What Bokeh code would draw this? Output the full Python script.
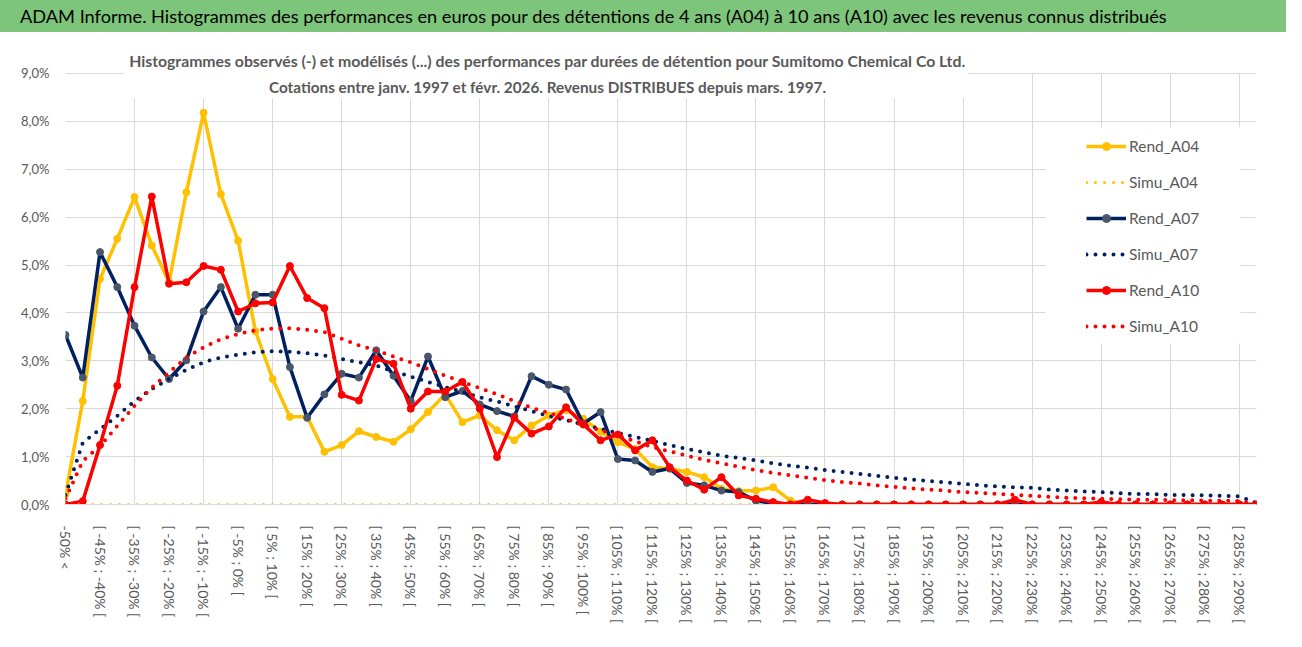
from bokeh.plotting import figure
from bokeh.layouts import column
from bokeh.models import ColumnDataSource, Range1d, FixedTicker, Label, BoxAnnotation, Div
from bokeh.embed import file_html
from bokeh.resources import INLINE

# ---------------- data ----------------
categories = [
    "-50% <", "[ -50% ; -45% [", "[ -45% ; -40% [", "[ -40% ; -35% [", "[ -35% ; -30% [",
    "[ -30% ; -25% [", "[ -25% ; -20% [", "[ -20% ; -15% [", "[ -15% ; -10% [", "[ -10% ; -5% [",
    "[ -5% ; 0% [", "[ 0% ; 5% [", "[ 5% ; 10% [", "[ 10% ; 15% [", "[ 15% ; 20% [",
    "[ 20% ; 25% [", "[ 25% ; 30% [", "[ 30% ; 35% [", "[ 35% ; 40% [", "[ 40% ; 45% [",
    "[ 45% ; 50% [", "[ 50% ; 55% [", "[ 55% ; 60% [", "[ 60% ; 65% [", "[ 65% ; 70% [",
    "[ 70% ; 75% [", "[ 75% ; 80% [", "[ 80% ; 85% [", "[ 85% ; 90% [", "[ 90% ; 95% [",
    "[ 95% ; 100% [", "[ 100% ; 105% [", "[ 105% ; 110% [", "[ 110% ; 115% [", "[ 115% ; 120% [",
    "[ 120% ; 125% [", "[ 125% ; 130% [", "[ 130% ; 135% [", "[ 135% ; 140% [", "[ 140% ; 145% [",
    "[ 145% ; 150% [", "[ 150% ; 155% [", "[ 155% ; 160% [", "[ 160% ; 165% [", "[ 165% ; 170% [",
    "[ 170% ; 175% [", "[ 175% ; 180% [", "[ 180% ; 185% [", "[ 185% ; 190% [", "[ 190% ; 195% [",
    "[ 195% ; 200% [", "[ 200% ; 205% [", "[ 205% ; 210% [", "[ 210% ; 215% [", "[ 215% ; 220% [",
    "[ 220% ; 225% [", "[ 225% ; 230% [", "[ 230% ; 235% [", "[ 235% ; 240% [", "[ 240% ; 245% [",
    "[ 245% ; 250% [", "[ 250% ; 255% [", "[ 255% ; 260% [", "[ 260% ; 265% [", "[ 265% ; 270% [",
    "[ 270% ; 275% [", "[ 275% ; 280% [", "[ 280% ; 285% [", "[ 285% ; 290% [", "[ 290% ; 295% [",
]

rend_a04 = [
    0.21, 2.16, 4.71, 5.55, 6.42, 5.41, 4.64, 6.52, 8.18, 6.48,
    5.51, 3.62, 2.62, 1.83, 1.83, 1.10, 1.24, 1.53, 1.41, 1.31,
    1.57, 1.93, 2.30, 1.72, 1.86, 1.55, 1.34, 1.65, 1.86, 1.97,
    1.79, 1.52, 1.30, 1.16, 0.78, 0.75, 0.68, 0.57, 0.33, 0.28,
    0.29, 0.36, 0.08, 0.00, 0.00, 0.00, 0.00, 0.00, 0.00, 0.00,
    0.00, 0.00, 0.00, 0.00, 0.00, 0.00, 0.00, 0.00, 0.00, 0.00,
    0.00, 0.00, 0.00, 0.00, 0.00, 0.00, 0.00, 0.00, 0.00, 0.00,
]
simu_a04 = [
    0.00, 0.00, 0.00, 0.00, 0.00, 0.00, 0.00, 0.00, 0.00, 0.00,
    0.00, 0.00, 0.00, 0.00, 0.00, 0.00, 0.00, 0.00, 0.00, 0.00,
    0.00, 0.00, 0.00, 0.00, 0.00, 0.00, 0.00, 0.00, 0.00, 0.00,
    0.00, 0.00, 0.00, 0.00, 0.00, 0.00, 0.00, 0.00, 0.00, 0.00,
    0.00, 0.00, 0.00, 0.00, 0.00, 0.00, 0.00, 0.00, 0.00, 0.00,
    0.00, 0.00, 0.00, 0.00, 0.00, 0.00, 0.00, 0.00, 0.00, 0.00,
    0.00, 0.00, 0.00, 0.00, 0.00, 0.00, 0.00, 0.00, 0.00, 0.00,
]
rend_a07 = [
    3.54, 2.65, 5.27, 4.54, 3.73, 3.07, 2.62, 3.01, 4.03, 4.54,
    3.67, 4.38, 4.38, 2.87, 1.81, 2.30, 2.73, 2.65, 3.22, 2.69,
    2.16, 3.09, 2.24, 2.37, 2.09, 1.95, 1.84, 2.68, 2.50, 2.40,
    1.69, 1.93, 0.95, 0.92, 0.68, 0.75, 0.45, 0.40, 0.29, 0.26,
    0.08, 0.02, 0.00, 0.00, 0.00, 0.00, 0.00, 0.00, 0.00, 0.00,
    0.00, 0.00, 0.00, 0.00, 0.00, 0.00, 0.00, 0.00, 0.00, 0.00,
    0.00, 0.00, 0.00, 0.00, 0.00, 0.00, 0.00, 0.00, 0.00, 0.00,
]
simu_a07 = [
    0.20, 1.29, 1.57, 1.85, 2.16, 2.41, 2.62, 2.81, 2.97, 3.07,
    3.13, 3.18, 3.20, 3.19, 3.16, 3.11, 3.04, 2.97, 2.90, 2.78,
    2.67, 2.56, 2.45, 2.35, 2.24, 2.15, 2.05, 1.95, 1.85, 1.76,
    1.67, 1.58, 1.49, 1.41, 1.33, 1.24, 1.16, 1.09, 1.02, 0.97,
    0.92, 0.86, 0.81, 0.77, 0.72, 0.68, 0.64, 0.60, 0.56, 0.52,
    0.49, 0.46, 0.43, 0.40, 0.38, 0.36, 0.35, 0.31, 0.29, 0.27,
    0.26, 0.24, 0.22, 0.22, 0.20, 0.195, 0.19, 0.18, 0.17, 0.03,
]
rend_a10 = [
    0.00, 0.07, 1.24, 2.48, 4.54, 6.43, 4.61, 4.64, 4.98, 4.90,
    4.03, 4.20, 4.22, 4.98, 4.31, 4.10, 2.29, 2.17, 3.04, 2.94,
    2.00, 2.36, 2.36, 2.56, 2.00, 0.99, 1.81, 1.48, 1.63, 2.03,
    1.67, 1.34, 1.46, 1.13, 1.34, 0.78, 0.50, 0.31, 0.57, 0.19,
    0.12, 0.05, 0.00, 0.10, 0.03, 0.00, 0.00, 0.00, 0.00, 0.00,
    0.00, 0.00, 0.00, 0.00, 0.00, 0.10, 0.00, 0.00, 0.00, 0.00,
    0.05, 0.00, 0.00, 0.00, 0.00, 0.00, 0.00, 0.00, 0.00, 0.00,
]
simu_a10 = [
    0.12, 0.91, 1.22, 1.64, 2.06, 2.44, 2.76, 3.07, 3.28, 3.45,
    3.56, 3.64, 3.67, 3.68, 3.65, 3.60, 3.46, 3.32, 3.22, 3.09,
    2.97, 2.83, 2.69, 2.56, 2.43, 2.30, 2.16, 2.02, 1.91, 1.79,
    1.65, 1.55, 1.44, 1.32, 1.20, 1.11, 1.02, 0.93, 0.86, 0.79,
    0.72, 0.66, 0.61, 0.56, 0.51, 0.47, 0.44, 0.40, 0.37, 0.34,
    0.31, 0.29, 0.26, 0.24, 0.22, 0.20, 0.18, 0.16, 0.14, 0.13,
    0.12, 0.11, 0.10, 0.10, 0.09, 0.09, 0.08, 0.08, 0.07, 0.01,
]

y_tick_values = [0, 1, 2, 3, 4, 5, 6, 7, 8, 9]
y_tick_labels = ["0,0%", "1,0%", "2,0%", "3,0%", "4,0%", "5,0%", "6,0%", "7,0%", "8,0%", "9,0%"]

title_text = ("ADAM Informe. Histogrammes des performances en euros pour des détentions "
              "de 4 ans (A04) à 10 ans (A10) avec les revenus connus distribués")
subtitle_1 = ("Histogrammes observés (-) et modélisés (...) des performances par durées "
              "de détention pour Sumitomo Chemical Co Ltd.")
subtitle_2 = "Cotations entre janv. 1997 et févr. 2026. Revenus DISTRIBUES depuis mars. 1997."

FONT = "Lato"
W = 1286
TITLE_H = 32
MAIN_H = 599
GREEN = "#7dc57b"

# ---------------- title bar ----------------
tb = Div(text=title_text, width=W, height=TITLE_H,
         styles={"background-color": GREEN, "font-family": "Lato", "font-size": "18.2px",
                 "color": "black", "padding-left": "20px", "line-height": "33px",
                 "box-sizing": "border-box", "white-space": "nowrap", "overflow": "hidden",
                 "width": f"{W}px", "height": f"{TITLE_H}px", "margin": "0"})

# ---------------- main chart ----------------
x = list(range(len(categories)))
src = ColumnDataSource(dict(x=x, rend_a04=rend_a04, simu_a04=simu_a04, rend_a07=rend_a07,
                            simu_a07=simu_a07, rend_a10=rend_a10, simu_a10=simu_a10))

p = figure(width=W, height=MAIN_H, output_backend="svg", toolbar_location=None,
           x_range=Range1d(0, len(categories) - 1), y_range=Range1d(0, 9.689),
           min_border_left=65, min_border_right=30, min_border_top=8, min_border_bottom=127,
           background_fill_color="white", border_fill_color="white")
p.outline_line_color = None

# grid
p.xgrid.ticker = FixedTicker(ticks=x[::4])
p.ygrid.ticker = FixedTicker(ticks=y_tick_values)
p.xgrid.grid_line_color = "#d9d9d9"
p.ygrid.grid_line_color = "#d9d9d9"

# axes
p.xaxis.ticker = FixedTicker(ticks=x[::2])
p.xaxis.major_label_overrides = {i: categories[i] for i in x[::2]}
p.xaxis.major_label_orientation = "vertical"
p.xaxis.major_label_text_font = FONT
p.xaxis.major_label_text_font_size = "14px"
p.xaxis.major_label_text_color = "#595959"
p.xaxis.axis_line_color = "#d9d9d9"
p.xaxis.major_tick_line_color = None
p.xaxis.minor_tick_line_color = None
p.xaxis.major_label_standoff = 15

p.yaxis.ticker = FixedTicker(ticks=y_tick_values)
p.yaxis.major_label_overrides = dict(zip(y_tick_values, y_tick_labels))
p.yaxis.major_label_text_font = FONT
p.yaxis.major_label_text_font_size = "13px"
p.yaxis.major_label_text_color = "#595959"
p.yaxis.axis_line_color = None
p.yaxis.major_tick_line_color = None
p.yaxis.minor_tick_line_color = None
p.yaxis.major_label_standoff = 10


def cbox(l, r, t, b, color):
    return BoxAnnotation(left=l, right=r, top=t, bottom=b,
                         left_units="canvas", right_units="canvas",
                         top_units="canvas", bottom_units="canvas",
                         fill_color=color, fill_alpha=1.0, line_color=None)


# white areas: above the 9% line, behind the chart title, behind the legend
p.add_layout(cbox(65, 1256, 8, 40.5, "white"))
p.add_layout(cbox(123, 968, 8, 66, "white"))
p.add_layout(cbox(1045, 1240, 95, 311, "white"))

p.add_layout(Label(x=547, y=28, x_units="canvas", y_units="canvas", text=subtitle_1,
                   text_font=FONT, text_font_size="15.8px", text_font_style="bold",
                   text_color="#595959", text_align="center", text_baseline="middle"))
p.add_layout(Label(x=547, y=54, x_units="canvas", y_units="canvas", text=subtitle_2,
                   text_font=FONT, text_font_size="15.3px", text_font_style="bold",
                   text_color="#595959", text_align="center", text_baseline="middle"))

# series
YEL, NAVY, RED, NAVY_MK = "#ffc000", "#002060", "#ff0000", "#4a5669"

p.line("x", "rend_a04", source=src, color=YEL, line_width=3.5, legend_label="Rend_A04")
p.scatter("x", "rend_a04", source=src, size=7, color=YEL, legend_label="Rend_A04")
p.line("x", "simu_a04", source=src, color=YEL, line_width=3, line_dash="0 9",
       line_cap="round", legend_label="Simu_A04")
p.line("x", "rend_a07", source=src, color=NAVY, line_width=3.5, legend_label="Rend_A07")
p.scatter("x", "rend_a07", source=src, size=7, color=NAVY_MK, legend_label="Rend_A07")
p.line("x", "simu_a07", source=src, color=NAVY, line_width=4, line_dash="0 9",
       line_cap="round", legend_label="Simu_A07")
p.line("x", "rend_a10", source=src, color=RED, line_width=3.5, legend_label="Rend_A10")
p.scatter("x", "rend_a10", source=src, size=7, color=RED, legend_label="Rend_A10")
p.line("x", "simu_a10", source=src, color=RED, line_width=4, line_dash="0 9",
       line_cap="round", legend_label="Simu_A10")

lg = p.legend[0]
lg.location = (1021, 168)
lg.padding = 0
lg.margin = 0
lg.border_line_color = None
lg.background_fill_alpha = 0
lg.glyph_width = 40
lg.glyph_height = 20
lg.label_height = 20
lg.spacing = 16
lg.label_standoff = 3
lg.label_text_font = FONT
lg.label_text_font_size = "15.5px"
lg.label_text_color = "#595959"

layout = column(tb, p, spacing=0)
open("out.html", "w").write(file_html(layout, INLINE))
